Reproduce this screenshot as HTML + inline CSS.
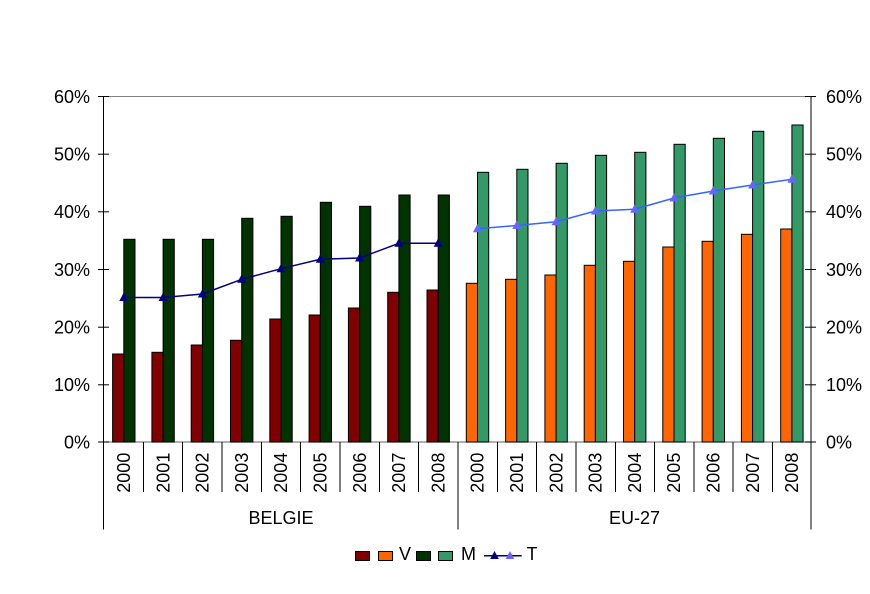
<!DOCTYPE html>
<html>
<head>
<meta charset="utf-8">
<style>
  html, body { margin: 0; padding: 0; background: #ffffff; }
  svg { display: block; }
  text { font-family: "Liberation Sans", Arial, sans-serif; fill: #000; }
</style>
</head>
<body>
<svg width="870" height="594" viewBox="0 0 870 594" xmlns="http://www.w3.org/2000/svg">
  <rect x="0" y="0" width="870" height="594" fill="#ffffff"/>

  <!-- plot border lines (gray) -->
  <line x1="103.5" y1="96.5" x2="811" y2="96.5" stroke="#808080" stroke-width="1"/>
  <line x1="103.5" y1="442" x2="811" y2="442" stroke="#808080" stroke-width="1.2"/>

  <!-- BELGIE V (red) -->
  <g fill="#800000" stroke="#000" stroke-width="1">
    <rect x="112.6" y="354" width="11.2" height="88"/>
    <rect x="151.9" y="352.3" width="11.2" height="89.7"/>
    <rect x="191.2" y="345" width="11.2" height="97"/>
    <rect x="230.5" y="340.3" width="11.2" height="101.7"/>
    <rect x="269.8" y="319" width="11.2" height="123"/>
    <rect x="309.1" y="315" width="11.2" height="127"/>
    <rect x="348.4" y="308" width="11.2" height="134"/>
    <rect x="387.7" y="292.3" width="11.2" height="149.7"/>
    <rect x="427.0" y="290" width="11.2" height="152"/>
  </g>
  <!-- BELGIE M (dark green) -->
  <g fill="#003300" stroke="#000" stroke-width="1">
    <rect x="123.8" y="239.3" width="11.2" height="202.7"/>
    <rect x="163.1" y="239.3" width="11.2" height="202.7"/>
    <rect x="202.4" y="239.3" width="11.2" height="202.7"/>
    <rect x="241.7" y="218.3" width="11.2" height="223.7"/>
    <rect x="281.0" y="216.3" width="11.2" height="225.7"/>
    <rect x="320.3" y="202.3" width="11.2" height="239.7"/>
    <rect x="359.6" y="206.3" width="11.2" height="235.7"/>
    <rect x="398.9" y="195" width="11.2" height="247"/>
    <rect x="438.2" y="195" width="11.2" height="247"/>
  </g>
  <!-- EU V (orange) -->
  <g fill="#FF6600" stroke="#000" stroke-width="1">
    <rect x="466.3" y="283.3" width="11.2" height="158.7"/>
    <rect x="505.6" y="279.3" width="11.2" height="162.7"/>
    <rect x="544.9" y="275" width="11.2" height="167"/>
    <rect x="584.2" y="265.3" width="11.2" height="176.7"/>
    <rect x="623.5" y="261.3" width="11.2" height="180.7"/>
    <rect x="662.8" y="247" width="11.2" height="195"/>
    <rect x="702.1" y="241.3" width="11.2" height="200.7"/>
    <rect x="741.4" y="234.3" width="11.2" height="207.7"/>
    <rect x="780.7" y="229" width="11.2" height="213"/>
  </g>
  <!-- EU M (light green) -->
  <g fill="#339966" stroke="#000" stroke-width="1">
    <rect x="477.5" y="172.3" width="11.2" height="269.7"/>
    <rect x="516.8" y="169.3" width="11.2" height="272.7"/>
    <rect x="556.1" y="163.3" width="11.2" height="278.7"/>
    <rect x="595.4" y="155.3" width="11.2" height="286.7"/>
    <rect x="634.7" y="152.3" width="11.2" height="289.7"/>
    <rect x="674.0" y="144.3" width="11.2" height="297.7"/>
    <rect x="713.3" y="138.3" width="11.2" height="303.7"/>
    <rect x="752.6" y="131.3" width="11.2" height="310.7"/>
    <rect x="791.9" y="125" width="11.2" height="317"/>
  </g>

  <!-- BELGIE T line -->
  <polyline fill="none" stroke="#000080" stroke-width="1.5"
    points="123.8,297.5 163.1,297.5 202.4,294 241.7,279.3 281,268.7 320.3,259.3 359.6,258 398.9,243.3 438.2,243.3"/>
  <g fill="#000080">
    <polygon points="123.8,292.5 128.3,301 119.3,301"/>
    <polygon points="163.1,292.5 167.6,301 158.6,301"/>
    <polygon points="202.4,289 206.9,297.5 197.9,297.5"/>
    <polygon points="241.7,274.3 246.2,282.8 237.2,282.8"/>
    <polygon points="281,263.7 285.5,272.2 276.5,272.2"/>
    <polygon points="320.3,254.3 324.8,262.8 315.8,262.8"/>
    <polygon points="359.6,253 364.1,261.5 355.1,261.5"/>
    <polygon points="398.9,238.3 403.4,246.8 394.4,246.8"/>
    <polygon points="438.2,238.3 442.7,246.8 433.7,246.8"/>
  </g>

  <!-- EU T line -->
  <polyline fill="none" stroke="#3366FF" stroke-width="1.5"
    points="477.5,228.7 516.8,225.5 556.1,221.7 595.4,211 634.7,209.3 674,198 713.3,191 752.6,185 791.9,179.3"/>
  <g fill="#6666FF">
    <polygon points="477.5,223.7 482,232.2 473,232.2"/>
    <polygon points="516.8,220.5 521.3,229 512.3,229"/>
    <polygon points="556.1,216.7 560.6,225.2 551.6,225.2"/>
    <polygon points="595.4,206 599.9,214.5 590.9,214.5"/>
    <polygon points="634.7,204.3 639.2,212.8 630.2,212.8"/>
    <polygon points="674,193 678.5,201.5 669.5,201.5"/>
    <polygon points="713.3,186 717.8,194.5 708.8,194.5"/>
    <polygon points="752.6,180 757.1,188.5 748.1,188.5"/>
    <polygon points="791.9,174.3 796.4,182.8 787.4,182.8"/>
  </g>

  <!-- axes -->
  <g stroke="#000" stroke-width="1">
    <line x1="103.5" y1="96" x2="103.5" y2="529.5"/>
    <line x1="811" y1="96" x2="811" y2="529.5"/>
    <line x1="458" y1="442" x2="458" y2="529.5"/>
    <!-- left ticks -->
    <line x1="98" y1="96.5" x2="109" y2="96.5"/>
    <line x1="98" y1="154.2" x2="109" y2="154.2"/>
    <line x1="98" y1="211.8" x2="109" y2="211.8"/>
    <line x1="98" y1="269.5" x2="109" y2="269.5"/>
    <line x1="98" y1="327.2" x2="109" y2="327.2"/>
    <line x1="98" y1="384.8" x2="109" y2="384.8"/>
    <line x1="98" y1="442" x2="109" y2="442"/>
    <!-- right ticks -->
    <line x1="805" y1="96.5" x2="816" y2="96.5"/>
    <line x1="805" y1="154.2" x2="816" y2="154.2"/>
    <line x1="805" y1="211.8" x2="816" y2="211.8"/>
    <line x1="805" y1="269.5" x2="816" y2="269.5"/>
    <line x1="805" y1="327.2" x2="816" y2="327.2"/>
    <line x1="805" y1="384.8" x2="816" y2="384.8"/>
    <line x1="805" y1="442" x2="816" y2="442"/>
    <!-- category separators -->
    <line x1="143.5" y1="442" x2="143.5" y2="492"/>
    <line x1="182.5" y1="442" x2="182.5" y2="492"/>
    <line x1="222" y1="442" x2="222" y2="492"/>
    <line x1="261.5" y1="442" x2="261.5" y2="492"/>
    <line x1="300.5" y1="442" x2="300.5" y2="492"/>
    <line x1="340" y1="442" x2="340" y2="492"/>
    <line x1="379.5" y1="442" x2="379.5" y2="492"/>
    <line x1="418.5" y1="442" x2="418.5" y2="492"/>
    <line x1="497.5" y1="442" x2="497.5" y2="492"/>
    <line x1="536.5" y1="442" x2="536.5" y2="492"/>
    <line x1="576" y1="442" x2="576" y2="492"/>
    <line x1="615.5" y1="442" x2="615.5" y2="492"/>
    <line x1="654.5" y1="442" x2="654.5" y2="492"/>
    <line x1="694" y1="442" x2="694" y2="492"/>
    <line x1="733" y1="442" x2="733" y2="492"/>
    <line x1="772.5" y1="442" x2="772.5" y2="492"/>
  </g>

  <!-- Y labels -->
  <g font-size="18" text-anchor="end">
    <text x="90" y="102.8">60%</text>
    <text x="90" y="160.5">50%</text>
    <text x="90" y="218.1">40%</text>
    <text x="90" y="275.8">30%</text>
    <text x="90" y="333.5">20%</text>
    <text x="90" y="391.1">10%</text>
    <text x="90" y="448.5">0%</text>
  </g>
  <g font-size="18" text-anchor="start">
    <text x="826" y="102.8">60%</text>
    <text x="826" y="160.5">50%</text>
    <text x="826" y="218.1">40%</text>
    <text x="826" y="275.8">30%</text>
    <text x="826" y="333.5">20%</text>
    <text x="826" y="391.1">10%</text>
    <text x="826" y="448.5">0%</text>
  </g>

  <!-- year labels -->
  <g font-size="18" text-anchor="middle">
    <text transform="translate(130,472.7) rotate(-90)">2000</text>
    <text transform="translate(169.3,472.7) rotate(-90)">2001</text>
    <text transform="translate(208.6,472.7) rotate(-90)">2002</text>
    <text transform="translate(247.9,472.7) rotate(-90)">2003</text>
    <text transform="translate(287.2,472.7) rotate(-90)">2004</text>
    <text transform="translate(326.5,472.7) rotate(-90)">2005</text>
    <text transform="translate(365.8,472.7) rotate(-90)">2006</text>
    <text transform="translate(405.1,472.7) rotate(-90)">2007</text>
    <text transform="translate(444.4,472.7) rotate(-90)">2008</text>
    <text transform="translate(483.7,472.7) rotate(-90)">2000</text>
    <text transform="translate(523,472.7) rotate(-90)">2001</text>
    <text transform="translate(562.3,472.7) rotate(-90)">2002</text>
    <text transform="translate(601.6,472.7) rotate(-90)">2003</text>
    <text transform="translate(640.9,472.7) rotate(-90)">2004</text>
    <text transform="translate(680.2,472.7) rotate(-90)">2005</text>
    <text transform="translate(719.5,472.7) rotate(-90)">2006</text>
    <text transform="translate(758.8,472.7) rotate(-90)">2007</text>
    <text transform="translate(798.1,472.7) rotate(-90)">2008</text>
  </g>

  <!-- group labels -->
  <g font-size="18" text-anchor="middle">
    <text x="281" y="524">BELGIE</text>
    <text x="634.5" y="524">EU-27</text>
  </g>

  <!-- legend -->
  <g stroke="#000" stroke-width="1">
    <rect x="355.5" y="551.5" width="14" height="9" fill="#800000"/>
    <rect x="378.5" y="551.5" width="14" height="9" fill="#FF6600"/>
    <rect x="416.5" y="551.5" width="14" height="9" fill="#003300"/>
    <rect x="438.5" y="551.5" width="14" height="9" fill="#339966"/>
  </g>
  <line x1="484" y1="555.7" x2="521.7" y2="555.7" stroke="#000080" stroke-width="1.5"/>
  <polygon points="494.5,551 498.8,559 490.2,559" fill="#000080"/>
  <polygon points="510,551 514.3,559 505.7,559" fill="#6666FF"/>
  <g font-size="18">
    <text x="399" y="560">V</text>
    <text x="461" y="560">M</text>
    <text x="526.5" y="560">T</text>
  </g>
</svg>
</body>
</html>
